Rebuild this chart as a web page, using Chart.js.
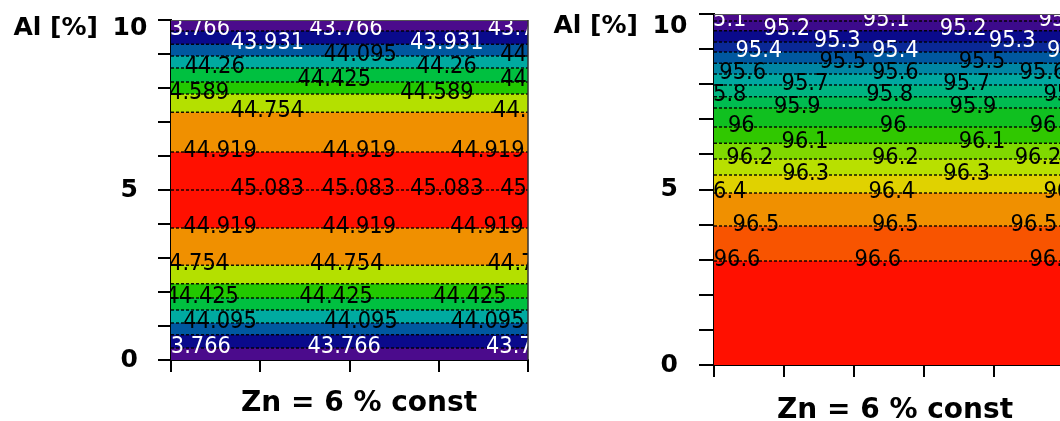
<!DOCTYPE html>
<html>
<head>
<meta charset="utf-8">
<script src="https://cdn.jsdelivr.net/npm/chart.js@4/dist/chart.umd.min.js"></script>
<style>
  html, body { margin: 0; padding: 0; background: #fff; overflow: hidden; width: 1060px; height: 421px; }
  .panel { position: absolute; top: 0; width: 540px; height: 421px; }
  #p1 { left: 0; }
  #p2 { left: 540px; }
</style>
</head>
<body>
<div class="panel" id="p1"><canvas id="c1" width="540" height="421"></canvas></div>
<div class="panel" id="p2"><canvas id="c2" width="540" height="421"></canvas></div>
<script>
// ---- axis text ----
const axisName = 'Al [%]';
const alTickLabels = ['0', '5', '10'];
const panelTitle = 'Zn = 6 % const';

// ---- left map: contour levels and the Al [%] at which each contour runs ----
const leftLevels  = [43.766, 43.931, 44.095, 44.26, 44.425, 44.589, 44.754, 44.919, 45.083];
const leftAlUpper = [9.68, 9.29, 8.94, 8.59, 8.18, 7.82, 7.29, 6.12, 5.0];   // above the ridge
const leftAlLower = [0.35, 0.74, 1.09, 1.47, 1.82, 2.24, 2.79, 3.88];        // below the ridge

// ---- right map ----
const rightLevels = [95.1, 95.2, 95.3, 95.4, 95.5, 95.6, 95.7, 95.8, 95.9, 96, 96.1, 96.2, 96.3, 96.4, 96.5, 96.6];
const rightAl     = [9.80, 9.52, 9.20, 8.92, 8.60, 8.29, 7.98, 7.64, 7.32, 6.78, 6.32, 5.87, 5.41, 4.90, 3.96, 2.96];

// ---- where the inline contour labels sit along each line (x in axis units) ----
const leftLabelXUpper = [
  [0.25, 1.96, 3.96], [1.08, 3.09], [2.12, 4.10], [0.49, 3.09], [1.83, 4.10],
  [0.24, 2.98], [1.08, 4.02], [0.55, 2.11, 3.55], [1.08, 2.10, 3.09, 4.10]
];
const leftLabelXLower = [
  [0.26, 1.94, 3.94], [], [0.55, 2.13, 3.55], [], [0.35, 1.85, 3.35],
  [], [0.24, 1.97, 3.96], [0.55, 2.11, 3.54]
];
const rightLabelX = [
  [0.13, 2.46, 4.97], [1.04, 3.56], [1.76, 4.26], [0.64, 2.59, 5.09],
  [1.84, 3.83], [0.41, 2.59, 4.70], [1.30, 3.61], [0.13, 2.51, 5.04],
  [1.19, 3.70], [0.39, 2.56, 4.70], [1.30, 3.83], [0.51, 2.59, 4.63],
  [1.31, 3.61], [0.13, 2.54, 5.04], [0.60, 2.59, 4.57], [0.33, 2.34, 4.84]
];

// ---- band colours, indexed by how many levels lie below the band ----
const leftPalette = ['#4b0b8c', '#0a0a8c', '#0058a0', '#00aaa0', '#00c040',
                     '#22c800', '#b4e000', '#f09000', '#ff1000', '#ff1000'];
const rightPalette = ['#4b0b8c', '#3c0a8c', '#0a0a8c', '#0a2896', '#0058a0', '#0086a4',
                      '#00a8a0', '#00b480', '#00bc50', '#10c020', '#30c800', '#80d800',
                      '#b8e000', '#e0d200', '#f09000', '#f85400', '#ff1000'];

const labelFont = '21px "DejaVu Sans"';
const boldFont = (px) => 'bold ' + px + 'px "DejaVu Sans"';

const contourLabels = {
  id: 'contourLabels',
  afterDatasetsDraw(chart, args, opts) {
    const { ctx, chartArea: a, scales: { x, y } } = chart;
    ctx.save();
    ctx.beginPath();
    ctx.rect(a.left, a.top, a.right - a.left, a.bottom - a.top);
    ctx.clip();
    ctx.font = labelFont;
    ctx.textAlign = 'center';
    ctx.textBaseline = 'middle';
    opts.items.forEach(it => {
      ctx.fillStyle = it.color;
      it.xs.forEach(xv => {
        ctx.save();
        ctx.translate(x.getPixelForValue(xv), y.getPixelForValue(it.al) - 1.5);
        ctx.scale(1, 1.12);
        ctx.fillText(it.text, 0, 0);
        ctx.restore();
      });
    });
    ctx.restore();
  }
};

const frameAndText = {
  id: 'frameAndText',
  afterDraw(chart, args, o) {
    const { ctx, chartArea: a } = chart;
    ctx.save();
    ctx.strokeStyle = '#555';
    ctx.lineWidth = 1;
    ctx.beginPath();
    ctx.moveTo(a.left, a.top + 0.5);
    ctx.lineTo(a.right, a.top + 0.5);
    ctx.stroke();
    ctx.strokeStyle = '#333';
    ctx.lineWidth = 1.5;
    ctx.beginPath();
    ctx.moveTo(a.right, a.top);
    ctx.lineTo(a.right, a.bottom);
    ctx.stroke();

    ctx.fillStyle = '#000';
    ctx.textBaseline = 'alphabetic';
    ctx.font = boldFont(25);
    ctx.textAlign = 'right';
    ctx.fillText(axisName, 98, o.headBase);
    ctx.textAlign = 'center';
    ctx.fillText(alTickLabels[alTickLabels.length - 1], 130, o.headBase);
    ctx.font = boldFont(28);
    ctx.fillText(panelTitle, o.titleX, o.titleBase);
    ctx.restore();
  }
};

function buildPanel(canvasId, p) {
  const bounds = [{ al: 10, idx: -1, line: false }];
  p.lines.forEach(l => bounds.push({ al: l.al, idx: l.idx, line: true }));
  bounds.push({ al: 0, idx: p.bottomIdx, line: false });
  bounds.sort((a, b) => b.al - a.al);

  const datasets = [];
  for (let k = 0; k < bounds.length - 1; k++) {
    const b = bounds[k], below = bounds[k + 1];
    datasets.push({
      data: [{ x: 0, y: b.al }, { x: p.xMax, y: b.al }],
      backgroundColor: p.palette[Math.max(b.idx, below.idx)],
      fill: 'start',
      borderColor: b.line ? 'rgba(0,0,0,0.9)' : 'rgba(0,0,0,0)',
      borderWidth: b.line ? 1.5 : 0,
      borderDash: [3, 2],
      pointRadius: 0,
      tension: 0
    });
  }
  // lowest band first: the filler paints from the last dataset backwards
  datasets.reverse();

  const shown = alTickLabels.slice(0, -1);
  return new Chart(document.getElementById(canvasId), {
    type: 'line',
    data: { datasets },
    options: {
      responsive: false,
      animation: false,
      devicePixelRatio: 1,
      layout: { padding: { left: 0, right: p.padRight, top: p.padTop, bottom: p.padBottom } },
      plugins: {
        legend: { display: false },
        tooltip: { enabled: false },
        filler: { drawTime: 'beforeDatasetsDraw' },
        contourLabels: { items: p.labels },
        frameAndText: { headBase: p.headBase, titleX: p.titleX, titleBase: p.titleBase }
      },
      scales: {
        x: {
          type: 'linear', min: 0, max: p.xMax, z: 1,
          ticks: { display: false, stepSize: 1 },
          grid: { drawOnChartArea: false, tickLength: 12, color: '#000', lineWidth: 2 },
          border: { color: '#000', width: 2 }
        },
        y: {
          type: 'linear', min: 0, max: 10, z: 1,
          afterFit: s => { s.width = p.axisWidth; s.paddingTop = 0; s.paddingBottom = 0; },
          ticks: {
            stepSize: 1, autoSkip: false, crossAlign: 'center', padding: p.tickPad, color: '#000',
            font: { family: 'DejaVu Sans', weight: 'bold', size: 25, lineHeight: 1 },
            callback: v => shown.includes(String(v)) ? String(v) : ''
          },
          grid: { drawOnChartArea: false, tickLength: p.yTickLen, color: '#000', lineWidth: 2 },
          border: { color: '#000', width: 2 }
        }
      }
    },
    plugins: [contourLabels, frameAndText]
  });
}

// left map
const leftLines = leftAlUpper.map((al, i) => ({ al, idx: i }))
  .concat(leftAlLower.map((al, i) => ({ al, idx: i })));
const leftLabelItems = [];
leftLevels.forEach((lv, i) => {
  const color = i < 2 ? '#fff' : '#000';
  leftLabelItems.push({ text: String(lv), al: leftAlUpper[i], xs: leftLabelXUpper[i], color });
  if (i < leftAlLower.length) {
    leftLabelItems.push({ text: String(lv), al: leftAlLower[i], xs: leftLabelXLower[i], color });
  }
});
buildPanel('c1', {
  lines: leftLines, bottomIdx: -1, palette: leftPalette, labels: leftLabelItems,
  xMax: 4, axisWidth: 171, padRight: 12, padTop: 20, padBottom: 49,
  yTickLen: 13, tickPad: 20, headBase: 35, titleX: 359, titleBase: 411
});

// right map
const rightLines = rightAl.map((al, i) => ({ al, idx: i }));
const rightLabelItems = rightLevels.map((lv, i) => ({
  text: String(lv), al: rightAl[i], xs: rightLabelX[i], color: i < 4 ? '#fff' : '#000'
}));
buildPanel('c2', {
  lines: rightLines, bottomIdx: rightLevels.length, palette: rightPalette, labels: rightLabelItems,
  xMax: 5, axisWidth: 174, padRight: 16, padTop: 14, padBottom: 44,
  yTickLen: 15, tickPad: 21, headBase: 32.5, titleX: 355, titleBase: 418
});
</script>
</body>
</html>
